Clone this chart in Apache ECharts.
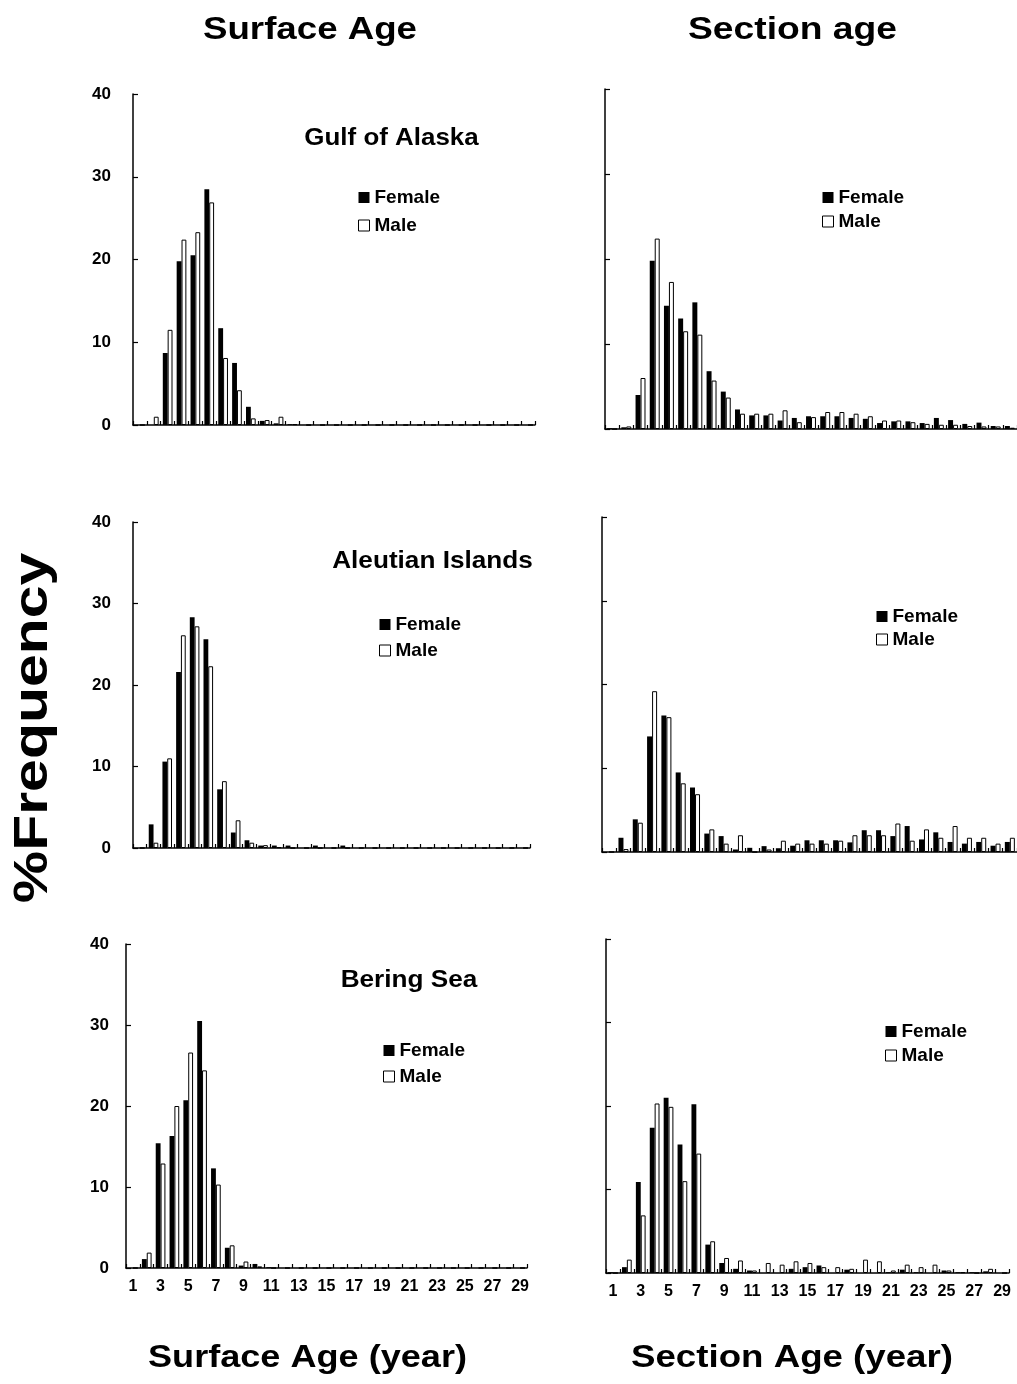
<!DOCTYPE html>
<html>
<head>
<meta charset="utf-8">
<style>
  html, body { margin: 0; padding: 0; background: #fff; }
  #chart { width: 1017px; height: 1384px; }
</style>
<script src="https://cdn.jsdelivr.net/npm/echarts@6/dist/echarts.min.js"></script>
</head>
<body>
<div id="chart"></div>
<script>
// ---- Data ----
const ages = ['1','2','3','4','5','6','7','8','9','10','11','12','13','14','15','16','17','18','19','20','21','22','23','24','25','26','27','28','29'];
const yTicks = [0, 10, 20, 30, 40];

const gulfSurfaceFemale = [0,0,8.7,19.8,20.5,28.5,11.7,7.5,2.2,0.5,0.2,0.1,0,0,0,0,0,0,0,0,0,0,0,0,0,0,0,0,0];
const gulfSurfaceMale   = [0,1.0,11.5,22.4,23.3,26.9,8.1,4.2,0.8,0.6,1.0,0.1,0,0,0,0,0,0,0,0,0,0,0,0,0,0,0,0,0];

const gulfSectionFemale = [0.1,0.2,4.0,19.8,14.5,13.0,14.9,6.8,4.4,2.3,1.6,1.6,1.0,1.3,1.5,1.5,1.5,1.3,1.2,0.7,0.9,0.9,0.7,1.3,1.05,0.6,0.75,0.35,0.35];
const gulfSectionMale   = [0,0.3,6.0,22.4,17.3,11.5,11.1,5.7,3.7,1.8,1.8,1.8,2.2,0.8,1.4,2.0,2.0,1.8,1.5,1.0,1.0,0.8,0.6,0.5,0.5,0.35,0.3,0.3,0.15];

const aleutianSurfaceFemale = [0,2.9,10.6,21.6,28.3,25.6,7.2,1.9,0.95,0.3,0.3,0.3,0,0.3,0,0.3,0,0,0,0,0,0,0,0,0,0,0,0,0];
const aleutianSurfaceMale   = [0,0.65,11.0,26.1,27.2,22.3,8.2,3.4,0.65,0.35,0.1,0,0,0,0,0,0,0,0,0,0,0,0,0,0,0,0,0,0];

const aleutianSectionFemale = [0,1.7,3.9,13.8,16.3,9.5,7.7,2.2,1.9,0.3,0.5,0.7,0.45,0.75,1.4,1.4,1.4,1.15,2.6,2.6,1.9,3.1,1.5,2.35,1.2,1.0,1.2,0.75,1.2];
const aleutianSectionMale   = [0,0.35,3.5,19.2,16.1,8.2,6.9,2.7,1.0,2.0,0,0.3,1.35,1.0,1.0,1.0,1.35,2.0,2.0,2.0,3.4,1.35,2.7,1.7,3.1,1.7,1.7,1.0,1.7];

const beringSurfaceFemale = [0,1.1,15.4,16.3,20.7,30.5,12.3,2.5,0.3,0.5,0.1,0,0,0,0,0,0,0,0,0,0,0,0,0,0,0,0,0,0];
const beringSurfaceMale   = [0,1.9,12.9,20.0,26.6,24.4,10.3,2.8,0.8,0.2,0,0,0,0,0,0,0,0,0,0,0,0,0,0,0,0,0,0,0];

const beringSectionFemale = [0.1,0.7,10.9,17.4,21.0,15.4,20.2,3.4,1.2,0.5,0.3,0,0,0.5,0.7,0.9,0,0.4,0,0,0.1,0.4,0.1,0,0.3,0.1,0.1,0.2,0];
const beringSectionMale   = [0,1.6,6.9,20.3,19.9,11.0,14.3,3.8,1.8,1.5,0.3,1.2,1.0,1.4,1.2,0.7,0.7,0.5,1.6,1.4,0.3,1.0,0.7,1.0,0.3,0.1,0,0.5,0];

const regionNames = ['Gulf of Alaska', 'Aleutian Islands', 'Bering Sea'];
const seriesNames = ['Female', 'Male'];
const columnTitles = ['Surface Age', 'Section age'];
const axisTitles = ['Surface Age (year)', 'Section Age (year)'];
const yTitle = '%Frequency';

// ---- Layout ----
const panels = [
  { grid: {left:133, top:94,  width:402, height:331}, female: gulfSurfaceFemale,     male: gulfSurfaceMale,     leftCol: true,  bottom: false, legend: {left:358, top:188, itemGap:9} },
  { grid: {left:605, top:89,  width:412, height:340}, female: gulfSectionFemale,     male: gulfSectionMale,     leftCol: false, bottom: false, legend: {left:822, top:188, itemGap:5} },
  { grid: {left:133, top:522, width:397, height:326}, female: aleutianSurfaceFemale, male: aleutianSurfaceMale, leftCol: true,  bottom: false, legend: {left:379, top:615, itemGap:7} },
  { grid: {left:602, top:517, width:415, height:335}, female: aleutianSectionFemale, male: aleutianSectionMale, leftCol: false, bottom: false, legend: {left:876, top:607, itemGap:4} },
  { grid: {left:126, top:944, width:401, height:324}, female: beringSurfaceFemale,   male: beringSurfaceMale,   leftCol: true,  bottom: true,  legend: {left:383, top:1041, itemGap:7} },
  { grid: {left:606, top:939, width:403, height:334}, female: beringSectionFemale,   male: beringSectionMale,   leftCol: false, bottom: true,  legend: {left:885, top:1022, itemGap:5} }
];

const FONT = '"Liberation Sans", Arial, sans-serif';
const grids = [], xAxes = [], yAxes = [], series = [], legends = [];

panels.forEach((p, i) => {
  grids.push(Object.assign({containLabel: false}, p.grid));
  xAxes.push({
    type: 'category', gridIndex: i, data: ages, boundaryGap: true,
    axisLine: {show: true, lineStyle: {color: '#000', width: 1.5}},
    axisTick: {show: true, inside: true, interval: 0, length: 4, alignWithLabel: false, lineStyle: {color: '#000', width: 1.2}},
    axisLabel: {show: p.bottom, interval: 1, color: '#000', fontFamily: FONT, fontWeight: 'bold', fontSize: 16, margin: 11},
    splitLine: {show: false}
  });
  yAxes.push({
    type: 'value', gridIndex: i, min: 0, max: 40, interval: 10,
    axisLine: {show: true, lineStyle: {color: '#000', width: 1.5}},
    axisTick: {show: true, inside: true, length: 5, lineStyle: {color: '#000', width: 1.2}},
    axisLabel: {show: p.leftCol, color: '#000', fontFamily: FONT, fontWeight: 'bold', fontSize: 17, margin: p.bottom ? 17 : 22,
      formatter: v => yTicks.includes(v) ? String(v) : ''},
    splitLine: {show: false}
  });
  series.push({
    name: seriesNames[0], type: 'bar', xAxisIndex: i, yAxisIndex: i, data: p.female,
    barGap: '0%', barCategoryGap: '30%',
    itemStyle: {color: '#000', borderColor: '#000', borderWidth: 0},
    emphasis: {disabled: true}, animation: false
  });
  series.push({
    name: seriesNames[1], type: 'bar', xAxisIndex: i, yAxisIndex: i, data: p.male,
    barGap: '0%', barCategoryGap: '30%',
    itemStyle: {color: '#fff', borderColor: '#000', borderWidth: 1},
    emphasis: {disabled: true}, animation: false
  });
  legends.push({
    orient: 'vertical', left: p.legend.left, top: p.legend.top, itemGap: p.legend.itemGap,
    padding: 0, icon: 'rect', itemWidth: 11, itemHeight: 11,
    data: [
      {name: 'Female', itemStyle: {color: '#000', borderColor: '#000', borderWidth: 0}},
      {name: 'Male', itemStyle: {color: '#fff', borderColor: '#000', borderWidth: 1}}
    ],
    selectedMode: false,
    textStyle: {color: '#000', fontFamily: FONT, fontWeight: 'bold', fontSize: 19}
  });
});

function label(text, x, y, size, sx, rot) {
  return {
    type: 'text', x: x, y: y, scaleX: sx, rotation: rot || 0, silent: true,
    style: {text: text, fill: '#000', font: 'bold ' + size + 'px ' + FONT, align: 'center', verticalAlign: 'middle'}
  };
}

const texts = [
  label(columnTitles[0], 310, 30, 32, 1.146),
  label(columnTitles[1], 792.5, 30, 32, 1.164),
  label(regionNames[0], 391.5, 138, 24, 1.08),
  label(regionNames[1], 432.5, 561, 24, 1.09),
  label(regionNames[2], 409, 980, 24, 1.09),
  label(axisTitles[0], 307.5, 1358, 32, 1.128),
  label(axisTitles[1], 792, 1358, 32, 1.146),
  label(yTitle, 34, 728, 48, 1.228, Math.PI / 2)
];

const chart = echarts.init(document.getElementById('chart'), null, {renderer: 'canvas'});
chart.setOption({
  backgroundColor: '#fff',
  animation: false,
  legend: legends,
  grid: grids,
  xAxis: xAxes,
  yAxis: yAxes,
  series: series,
  graphic: texts
});
</script>
</body>
</html>
